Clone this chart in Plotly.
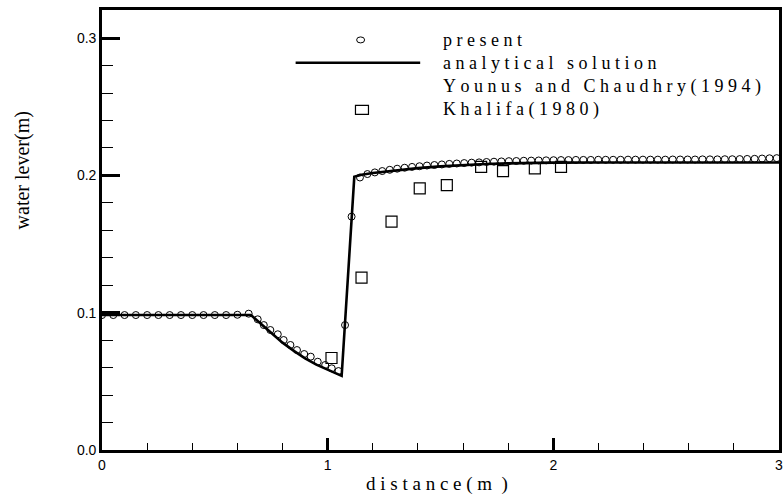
import plotly.graph_objects as go

# ---- data -------------------------------------------------------------
# present scheme (computed water surface)
present_x = [0.0, 0.05, 0.1, 0.15, 0.2, 0.25, 0.3, 0.35, 0.4, 0.45, 0.5, 0.55, 0.6, 0.65,
             0.69, 0.717, 0.746, 0.779, 0.805, 0.835, 0.864, 0.896, 0.925, 0.956, 0.989,
             1.018, 1.048, 1.077, 1.106,
             1.143, 1.176, 1.209, 1.242, 1.275, 1.308, 1.341, 1.374, 1.407, 1.44,
             1.473, 1.506, 1.539, 1.572, 1.605, 1.638, 1.671, 1.704, 1.737, 1.77,
             1.803, 1.836, 1.869, 1.902, 1.935, 1.968, 2.001, 2.034, 2.067, 2.1,
             2.133, 2.166, 2.199, 2.232, 2.265, 2.298, 2.331, 2.364, 2.397, 2.43,
             2.463, 2.496, 2.529, 2.562, 2.595, 2.628, 2.661, 2.694, 2.727, 2.76,
             2.793, 2.826, 2.859, 2.892, 2.925, 2.958, 2.99]
present_y = [0.0983, 0.0983, 0.0983, 0.0983, 0.0983, 0.0983, 0.0983, 0.0983, 0.0983, 0.0983,
             0.0983, 0.0983, 0.0985, 0.0993,
             0.0952, 0.091, 0.0874, 0.0843, 0.0801, 0.0765, 0.0728, 0.0699, 0.068, 0.0643,
             0.0619, 0.0595, 0.0575, 0.091, 0.170,
             0.1985, 0.201, 0.2022, 0.2032, 0.2041, 0.2049, 0.2056, 0.2062, 0.2067, 0.2072,
             0.2076, 0.208, 0.2084, 0.2087, 0.209, 0.2093, 0.2095, 0.2098, 0.21, 0.2102,
             0.2104, 0.2105, 0.2107, 0.2108, 0.2109, 0.211, 0.2111, 0.2112, 0.2112, 0.2113,
             0.2113, 0.2113, 0.2114, 0.2114, 0.2114, 0.2114, 0.2115, 0.2115, 0.2115, 0.2115,
             0.2115, 0.2115, 0.2116, 0.2116, 0.2116, 0.2116, 0.2117, 0.2117, 0.2117, 0.2118,
             0.2118, 0.2119, 0.212, 0.2121, 0.2123, 0.2125, 0.2126]

# analytical solution
analytic_x = [0.0, 0.66, 0.7, 0.75, 0.8, 0.85, 0.9, 0.95, 1.0, 1.03, 1.062, 1.118,
              1.15, 1.2, 1.3, 1.4, 1.5, 1.6, 1.7, 1.8, 1.9, 2.0, 2.2, 2.5, 2.8, 3.0]
analytic_y = [0.0983, 0.0983, 0.0925, 0.0852, 0.0782, 0.0722, 0.0668, 0.0622, 0.0585,
              0.0565, 0.0540, 0.199, 0.2005, 0.2018, 0.2038, 0.2053, 0.2066, 0.2076,
              0.2083, 0.2088, 0.2091, 0.2093, 0.2094, 0.2094, 0.2094, 0.2094]

# Khalifa (1980)
khalifa_x = [1.017, 1.150, 1.283, 1.408, 1.528, 1.680, 1.777, 1.918, 2.034]
khalifa_y = [0.067, 0.1256, 0.1663, 0.1906, 0.193, 0.2063, 0.2032, 0.2052, 0.2063]

legend_labels = ["present", "analytical solution", "Younus and Chaudhry(1994)", "Khalifa(1980)"]

x_ticks = [0, 1, 2, 3]
y_ticks = [0.0, 0.1, 0.2, 0.3]
y_ticktext = ["0.0", "0.1", "0.2", "0.3"]

SERIF = "Liberation Serif, Times New Roman, serif"
SANS = "Liberation Sans, Arial, sans-serif"


def spaced(s):
    """Letter-spaced rendering of a label."""
    return "\u00a0".join(s)


fig = go.Figure()

fig.add_trace(go.Scatter(
    x=analytic_x, y=analytic_y, mode="lines",
    line=dict(color="black", width=2.6), name=legend_labels[1], showlegend=False))

fig.add_trace(go.Scatter(
    x=present_x, y=present_y, mode="markers",
    marker=dict(symbol="circle-open", size=7, color="black", line=dict(width=1)),
    name=legend_labels[0], showlegend=False))

fig.add_trace(go.Scatter(
    x=khalifa_x, y=khalifa_y, mode="markers",
    marker=dict(symbol="square-open", size=11, color="black", line=dict(width=1.2)),
    name=legend_labels[3], showlegend=False))

# ---- hand-built legend -------------------------------------------------
row_y = [0.932, 0.880, 0.826, 0.773]
for lbl, yy in zip(legend_labels, row_y):
    fig.add_annotation(x=0.501, y=yy, xref="paper", yref="paper", text=spaced(lbl),
                       showarrow=False, xanchor="left", yanchor="middle",
                       font=dict(family=SERIF, size=18, color="black"))

fig.add_shape(type="circle", xref="paper", yref="paper",
              xsizemode="pixel", ysizemode="pixel",
              xanchor=0.382, yanchor=row_y[0], x0=-4, x1=4, y0=-3, y1=3,
              line=dict(color="black", width=1))
fig.add_shape(type="line", xref="paper", yref="paper",
              x0=0.286, x1=0.470, y0=row_y[1], y1=row_y[1],
              line=dict(color="black", width=2.6))
fig.add_shape(type="rect", xref="paper", yref="paper",
              xsizemode="pixel", ysizemode="pixel",
              xanchor=0.384, yanchor=row_y[3], x0=-6.5, x1=6.5, y0=-4.5, y1=4.5,
              line=dict(color="black", width=1.2))

# ---- axis titles ---------------------------------------------------------
fig.add_annotation(x=-0.117, y=0.635, xref="paper", yref="paper",
                   text="water lever(m)", textangle=-90, showarrow=False,
                   xanchor="center", yanchor="middle",
                   font=dict(family=SERIF, size=20, color="black"))
fig.add_annotation(x=0.495, y=-0.077, xref="paper", yref="paper",
                   text=spaced("distance(m") + "\u00a0\u00a0)", showarrow=False,
                   xanchor="center", yanchor="middle",
                   font=dict(family=SERIF, size=19, color="black"))

fig.update_xaxes(
    range=[0, 3], tickvals=x_ticks, ticktext=[str(v) for v in x_ticks],
    ticks="inside", ticklen=12, tickwidth=2.5, tickcolor="black",
    minor=dict(dtick=0.2, tick0=0, ticks="inside", ticklen=7, tickwidth=1, tickcolor="black"),
    showline=True, linewidth=2.6, linecolor="black", mirror=True,
    showgrid=False, zeroline=False,
    tickfont=dict(family=SANS, size=14, color="black"))

fig.update_yaxes(
    range=[0, 0.3205], tickvals=y_ticks, ticktext=y_ticktext,
    ticks="inside", ticklen=18, tickwidth=2.5, tickcolor="black",
    minor=dict(dtick=0.02, tick0=0, ticks="inside", ticklen=11, tickwidth=1, tickcolor="black"),
    showline=True, linewidth=2.6, linecolor="black", mirror=True,
    showgrid=False, zeroline=False,
    tickfont=dict(family=SANS, size=14, color="black"))

fig.update_layout(
    width=784, height=500,
    margin=dict(l=102, r=2, t=10, b=50),
    paper_bgcolor="white", plot_bgcolor="white",
    showlegend=False)

fig.write_html("out.html")
